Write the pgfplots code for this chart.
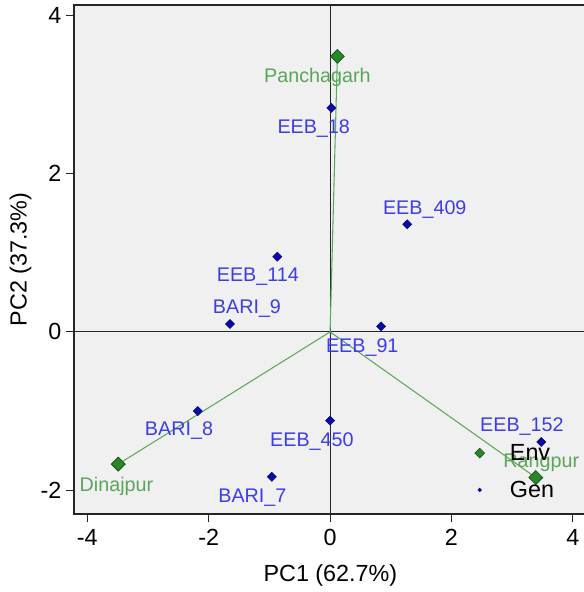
\documentclass[border=0pt]{standalone}
\usepackage{fontspec}
\setmainfont{Liberation Sans}
\usepackage{pgfplots}
\pgfplotsset{compat=1.18}
\definecolor{bgc}{RGB}{240,240,240}
\definecolor{genm}{RGB}{10,10,170}
\definecolor{gent}{RGB}{60,60,235}
\definecolor{envm}{RGB}{40,135,40}
\definecolor{envt}{RGB}{90,165,90}
\definecolor{vecc}{RGB}{90,170,90}
\begin{document}
\begin{tikzpicture}
\begin{axis}[
  name=ax,
  scale only axis,
  width=384.6pt, height=381.8pt,
  xmin=-4.22, xmax=4.23, ymin=-2.30, ymax=4.13,
  axis background/.style={fill=bgc},
  axis line style={line width=1pt, black!85},
  xtick={-4,-2,0,2,4}, ytick={-2,0,2,4},
  tick align=outside, major tick length=6pt,
  tick style={line width=0.8pt, black!85},
  xtick pos=bottom, ytick pos=left,
  /pgf/number format/assume math mode=true,
  ticklabel style={font=\fontsize{17.5}{20}\selectfont},
  xticklabel style={yshift=-2pt},
  xlabel={PC1 (62.7\%)}, ylabel={PC2 (37.3\%)},
  label style={font=\fontsize{17.5}{20}\selectfont},
  xlabel style={yshift=-7pt},
  ylabel style={yshift=0pt},
  clip=false,
  legend style={draw=none, fill=none, at={(axis cs:2.38,-1.38)}, anchor=north west,
    font=\fontsize{17.5}{20}\selectfont, row sep=10pt, inner sep=0pt},
  legend cell align=left,
]
% axis lines through origin
\draw[black!85, line width=0.8pt] (axis cs:0,-2.30) -- (axis cs:0,4.13);
\draw[black!85, line width=0.8pt] (axis cs:-4.22,0) -- (axis cs:4.23,0);
% environment vectors
\addplot[vecc, line width=0.8pt, forget plot] coordinates {(0,0) (0.12,3.48)};
\addplot[vecc, line width=0.8pt, forget plot] coordinates {(0,0) (-3.49,-1.67)};
\addplot[vecc, line width=0.8pt, forget plot] coordinates {(0,0) (3.39,-1.84)};
% genotypes
\addplot[only marks, mark=square*, mark size=2.4pt, mark options={rotate=45, fill=genm, draw=genm!70!black}, forget plot]
 coordinates {(0.02,2.83) (1.27,1.36) (-0.87,0.95) (-1.65,0.10) (0.84,0.07) (-2.18,-1.00) (0.00,-1.12) (-0.96,-1.83) (3.48,-1.39)};
% environments
\addplot[only marks, mark=square*, mark size=3.7pt, mark options={rotate=45, fill=envm, draw=envm!50!black, line width=0.5pt}, forget plot]
 coordinates {(0.12,3.48) (-3.49,-1.67) (3.39,-1.84)};
% legend
\addlegendimage{only marks, mark=square*, mark size=2.6pt, mark options={rotate=45, fill=envm, draw=envm!50!black}}
\addlegendentry{\hspace{17pt}Env}
\addlegendimage{only marks, mark=*, mark size=1.4pt, mark options={fill=genm, draw=genm}}
\addlegendentry{\hspace{17pt}Gen}
% labels
\begin{scope}[every node/.style={font=\fontsize{14.8}{16}\selectfont, inner sep=0pt, anchor=center}]
\node[gent] at (axis cs:-0.27,2.57) {EEB\_18};
\node[gent] at (axis cs:1.56,1.54) {EEB\_409};
\node[gent] at (axis cs:-1.19,0.70) {EEB\_114};
\node[gent] at (axis cs:-1.37,0.29) {BARI\_9};
\node[gent] at (axis cs:0.53,-0.20) {EEB\_91};
\node[gent] at (axis cs:-2.49,-1.25) {BARI\_8};
\node[gent] at (axis cs:-0.30,-1.38) {EEB\_450};
\node[gent] at (axis cs:-1.28,-2.10) {BARI\_7};
\node[gent] at (axis cs:3.16,-1.19) {EEB\_152};
\node[envt] at (axis cs:-0.21,3.21) {Panchagarh};
\node[envt] at (axis cs:-3.52,-1.95) {Dinajpur};
\node[envt] at (axis cs:3.48,-1.65) {Rangpur};
\end{scope}
\end{axis}
\pgfresetboundingbox
\path[use as bounding box] ([shift={(-55.5pt,-58.5pt)}]ax.south west) rectangle ++(438pt,444pt);
\end{tikzpicture}
\end{document}
